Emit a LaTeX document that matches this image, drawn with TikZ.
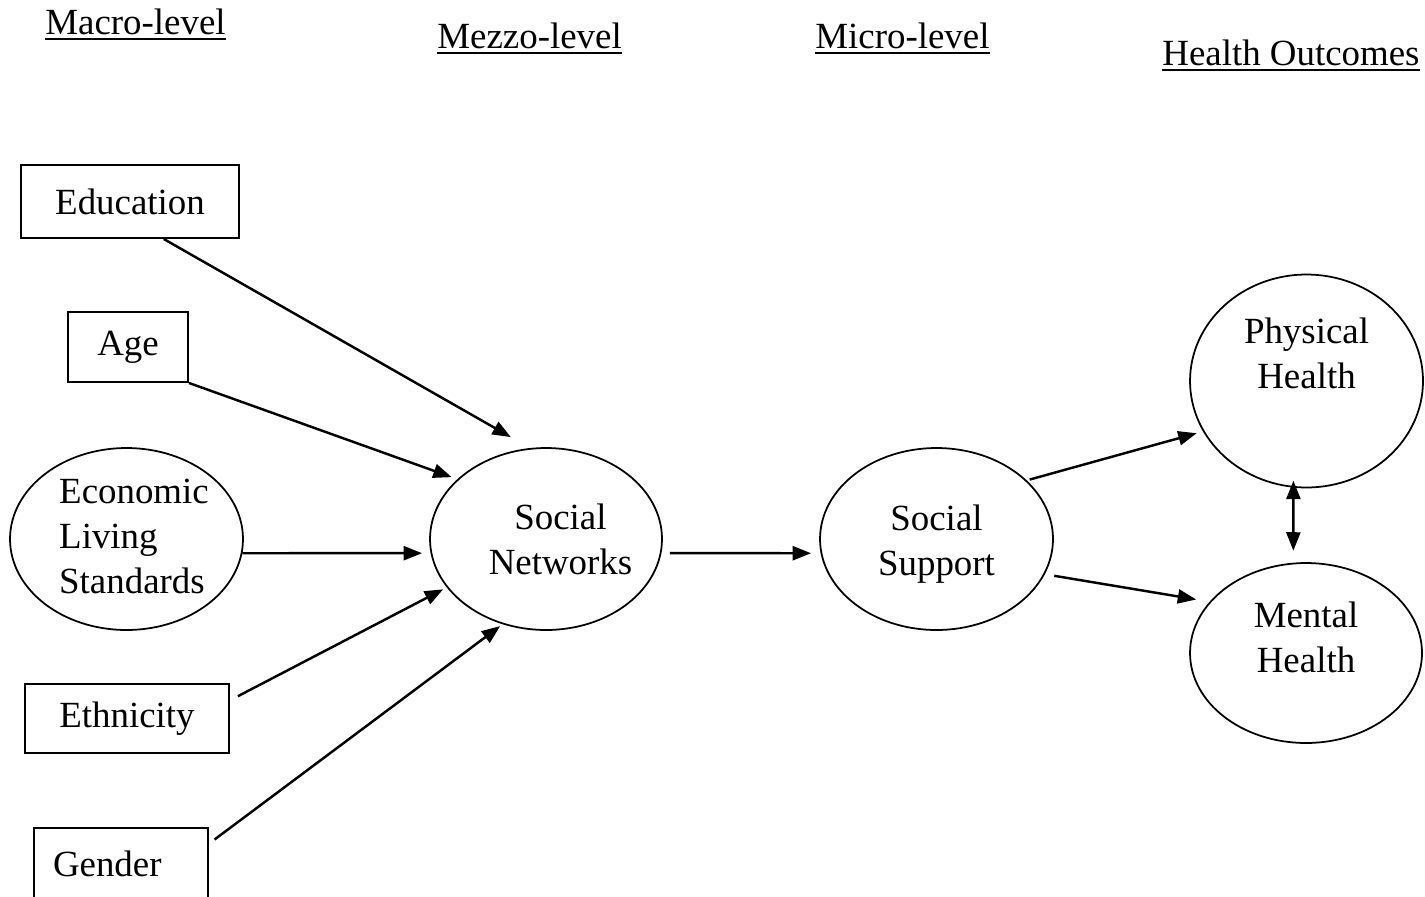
\documentclass[tikz,border=0pt]{standalone}
\usepackage{fontspec}
\setmainfont{Liberation Serif}
\usetikzlibrary{shapes.geometric,arrows.meta}
\newcommand{\lvl}[1]{\setbox0=\hbox{#1}\rlap{\rule[-3.4pt]{\wd0}{1.2pt}}\box0}

\begin{document}
\begin{tikzpicture}[x=0.02cm,y=-0.02cm,
        every node/.style={font=\fontsize{21}{25.6}\selectfont},
        box/.style={draw, rectangle, line width=1.1pt, inner sep=0pt},
        oval/.style={draw, ellipse, line width=1pt, inner sep=0pt},
        head/.style={anchor=base west, inner sep=0pt},
        every label/.style={align=center},
        >={Triangle[length=10.5pt,width=8pt]},
        link/.style={->, line width=1.4pt}]
        \useasboundingbox (0,0) rectangle (1425,896);
        % level headings
        \node[head] (macro) at (45,34) {\lvl{Macro-level}};
        \node[head] (mezzo) at (437,48) {\lvl{Mezzo-level}};
        \node[head] (micro) at (815,48) {\lvl{Micro-level}};
        \node[head] (outc) at (1162,65) {\lvl{Health Outcomes}};
        % macro-level factors
        \node[box, minimum width=4.36cm, minimum height=1.46cm] (edu) at (130,201.5) {Education};
        \node[box, minimum width=2.4cm, minimum height=1.4cm] (age) at (128,347) {Age};
        \node[oval, minimum width=4.66cm, minimum height=3.64cm,
              label={[align=left, xshift=0.15cm, yshift=0.06cm]center:Economic\\Living\\Standards}] (econ) at (126.5,539) {};
        \node[box, minimum width=4.08cm, minimum height=1.38cm] (eth) at (127,718.5) {Ethnicity};
        \node[box, minimum height=1.44cm, inner xsep=0.38cm, text width=2.72cm, align=left] (gen) at (121,864) {Gender};
        % mezzo, micro and outcomes
        \node[oval, minimum width=4.64cm, minimum height=3.64cm,
              label={[xshift=0.29cm]center:Social\\Networks}] (net) at (546,539) {};
        \node[oval, minimum width=4.66cm, minimum height=3.64cm,
              label={[yshift=-0.1cm]center:Social\\Support}] (sup) at (936.5,539) {};
        \node[oval, minimum width=4.66cm, minimum height=4.26cm,
              label={[yshift=0.56cm]center:Physical\\Health}] (phys) at (1306.5,381) {};
        \node[oval, minimum width=4.64cm, minimum height=3.6cm,
              label={[yshift=0.32cm]center:Mental\\Health}] (ment) at (1306,653) {};
        % paths
        \draw[link, shorten >=0.44cm] (edu.-48) -- (net.100);
        \draw[link, shorten >=0.12cm] (age.south east) -- (net.146);
        \draw[link, shorten >=0.17cm] (econ.-7) -- (net.187);
        \draw[link, shorten <=0.18cm, shorten >=0.08cm] (eth.10) -- (net.206);
        \draw[link, shorten <=0.14cm, shorten >=0.06cm] (gen.13) -- (net.243);
        \draw[link, shorten <=0.17cm, shorten >=0.19cm] (net.-7) -- (sup.187);
        \draw[link, shorten <=0.06cm, shorten >=0.13cm] (sup.33) -- (phys.206);
        \draw[link, shorten <=0.19cm, shorten >=0.27cm] (sup.-18) -- (ment.152);
        \draw[link, <->, shorten <=-0.14cm, shorten >=0.24cm] (phys.263) -- (ment.98);
\end{tikzpicture}
\end{document}
